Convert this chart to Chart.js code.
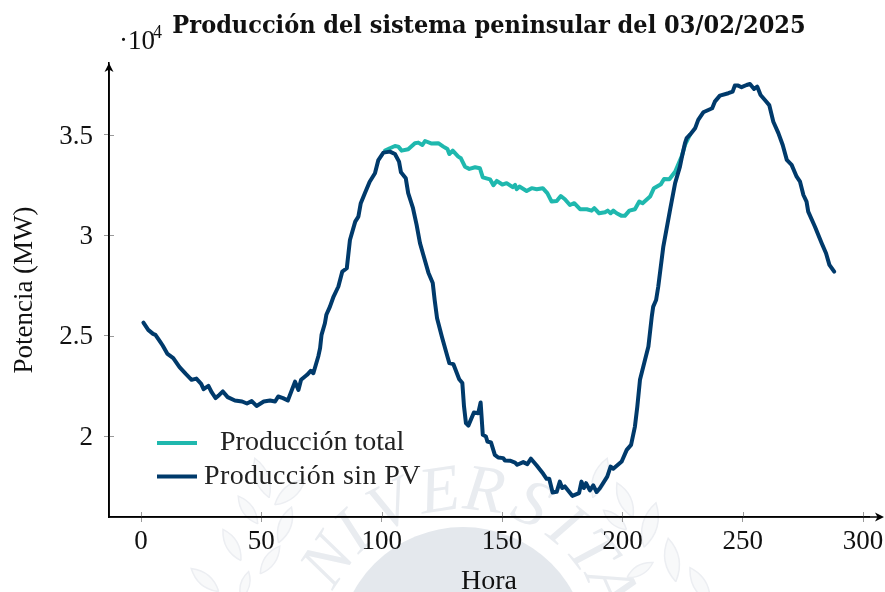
<!DOCTYPE html>
<html lang="es">
<head>
<meta charset="utf-8">
<title>Producción del sistema peninsular</title>
<script src="https://cdn.jsdelivr.net/npm/chart.js@4"></script>
<style>html,body{margin:0;padding:0;background:#fff}#w{position:relative;width:885px;height:592px}canvas{display:block}</style>
</head>
<body>
<div id="w"><canvas id="c" width="885" height="592"></canvas></div>
<script>
const chartTitle = "Producción del sistema peninsular del 03/02/2025";
const xLabel = "Hora";
const yLabel = "Potencia (MW)";
const xTickValues = [0, 50, 100, 150, 200, 250, 300];
const yTickValues = [20000, 25000, 30000, 35000];
const seriesTotalName = "Producción total";
const seriesNoPvName = "Producción sin PV";

const totalHours = [101.4,103.4,105.5,106.9,108.3,111,113.8,115.2,116.9,118,120.8,123.5,125.6,127.3,128.1,129.5,131.8,132.9,134.6,136.4,138.8,140.8,142,145,146.4,147.8,150.1,151.9,154.4,155.4,156.1,157.2,160.2,162.3,164.4,166.9,168.8,170.6,172.7,174.4,176.1,178.2,180,182.4,185.2,187.2,188.3,190.3,192.8,193.9,195.1,196.2,197.6,199.7,201,202.9,205.2,207,208.4,211.5,213.1,216,217.3,219.5,221.9,224.6,226,228];
const totalMW = [34220,34340,34450,34420,34220,34290,34590,34620,34500,34700,34570,34590,34420,34300,34050,34220,33920,33840,33420,33310,33390,33340,32890,32790,32500,32710,32530,32600,32400,32510,32300,32430,32210,32350,32300,32350,32100,31680,31710,31960,31800,31510,31600,31300,31300,31230,31350,31100,31150,31230,31100,31230,31100,30970,30970,31230,31300,31680,31600,31930,32350,32550,32810,32790,33170,33920,34500,35000];

const noPvHours = [1,3,5,6,8,9,11,13.4,16,18.7,21,23,25,26,28,29.4,31,32.5,34,36,39,42,44,46,48,51,53.6,55.7,57,59,61,64,65.4,66.5,69,70.5,71.6,73.7,74.4,75,76.4,77,78.5,80,82,83.6,85.5,86.8,89,90.3,91.3,93,95,97.2,98.6,100.7,103.4,105.5,107.2,108,110,111,113,114.5,115.9,117.3,119.4,121.2,122,123,125,127.3,128.1,129.8,132.2,133.5,134.2,135,136,138.3,140.1,141.1,142,143.3,143.9,145.4,147,148.4,150.5,151.2,153.3,155.4,156.3,158.8,160.5,162,164.4,167.1,168.5,169.6,171,172.7,174,175,176.1,179.2,182,183,184,184.9,186.5,187.9,189.3,190.7,193.7,195.1,196.2,199.7,201.8,203.6,205.2,206.2,207.3,209.4,210.8,212.2,212.8,214,214.9,217,219.8,221.9,223.9,224.6,226,226.7,228,230.2,231.5,233.6,236.4,237.3,238.4,240.5,244,245.8,246.7,248.1,249.5,251.6,253,254.7,256,257.4,259.2,261,262.7,264.8,266.6,268.3,270.3,272.4,273.8,275.2,276.5,277.2,280,282.8,284.6,286,288];
const noPvMW = [25650,25290,25090,25040,24690,24510,24090,23880,23430,23080,22800,22860,22600,22340,22500,22170,21890,22050,22220,21940,21770,21720,21620,21740,21500,21720,21770,21720,21970,21890,21770,22710,22300,22800,23050,23250,23130,23990,24380,25040,25620,26040,26450,26950,27450,28190,28360,29770,30680,30930,31600,32100,32670,33090,33750,34120,34170,34050,33670,33140,32840,32100,31350,30520,29610,29020,28140,27620,26780,25870,24950,23960,23630,23580,22830,22640,21470,20640,20520,21170,21140,21670,20060,19980,19730,19680,19060,18930,18900,18780,18770,18680,18570,18700,18600,18870,18530,18120,17870,17870,17190,17220,17730,17410,17490,17020,17160,17730,17410,17650,17290,17540,17210,17410,17980,18480,18370,18730,19310,19560,20470,21470,22800,23800,24460,25950,26450,26780,27450,29440,31270,32600,33420,33840,34590,34840,35000,35330,35750,36130,36280,36330,36660,36960,37080,37160,37460,37460,37380,37490,37540,37290,37410,36990,36740,36490,35660,35090,34500,33760,33510,32920,32670,32010,31680,31180,30430,29610,29110,28530,28190];

const tealColor = "#1fb8ae";
const navyColor = "#003a6b";
const serif = '"Liberation Serif", serif';

const toXY = (xs, ys) => xs.map((x, i) => ({ x, y: ys[i] }));

const watermark = {
  id: "watermark",
  beforeDraw(chart) {
    const ctx = chart.ctx;
    ctx.save();
    ctx.fillStyle = "#fff";
    ctx.fillRect(0, 0, chart.width, chart.height);
    const cx = 463, cy = 652;
    ctx.fillStyle = "#e4e8ed";
    ctx.beginPath(); ctx.arc(cx, cy, 125, 0, Math.PI * 2); ctx.fill();
    const letters = [["N",-56],["I",-42.7],["V",-26.7],["E",-8.4],["R",7.5],["S",25],["I",39],["T",52],["A",66]];
    ctx.fillStyle = "#e9ecf0";
    ctx.font = "italic 66px " + serif;
    ctx.textAlign = "center"; ctx.textBaseline = "middle";
    letters.forEach(([t, a]) => {
      const r = a * Math.PI / 180;
      ctx.save();
      ctx.translate(cx + 160 * Math.sin(r), cy - 160 * Math.cos(r));
      ctx.rotate(r);
      ctx.fillText(t, 0, 0);
      ctx.restore();
    });
    const leaves = [[262,478,-20,42],[290,492,50,40],[248,510,-35,34],[285,525,20,38],[232,545,-30,36],[270,560,35,34],[205,580,-50,36],[245,585,15,28],
                    [600,478,20,42],[625,500,-25,38],[650,525,15,46],[615,520,-50,30],[672,560,-10,44],[700,585,-30,40],[640,570,60,30]];
    ctx.strokeStyle = "#eceef2"; ctx.fillStyle = "#f8f9fa"; ctx.lineWidth = 1.5;
    leaves.forEach(([x, y, a, l]) => {
      ctx.save();
      ctx.translate(x, y); ctx.rotate(a * Math.PI / 180);
      ctx.beginPath(); ctx.moveTo(0, l / 2);
      ctx.quadraticCurveTo(l * 0.32, 0, 0, -l / 2);
      ctx.quadraticCurveTo(-l * 0.32, 0, 0, l / 2);
      ctx.fill(); ctx.stroke();
      ctx.restore();
    });
    ctx.restore();
  }
};

const decorations = {
  id: "decorations",
  afterDraw(chart) {
    const ctx = chart.ctx, xs = chart.scales.x, ys = chart.scales.y;
    const ox = xs.left, oy = ys.bottom, tipY = 63, tipX = 884;
    ctx.save();
    ctx.strokeStyle = "#9a9a9a"; ctx.lineWidth = 1;
    xTickValues.forEach(v => { const p = Math.round(xs.getPixelForValue(v)) + .5; ctx.beginPath(); ctx.moveTo(p, oy); ctx.lineTo(p, oy - 5); ctx.stroke(); });
    yTickValues.forEach(v => { const p = Math.round(ys.getPixelForValue(v)) + .5; ctx.beginPath(); ctx.moveTo(ox, p); ctx.lineTo(ox + 5, p); ctx.stroke(); });
    ctx.strokeStyle = "#000"; ctx.fillStyle = "#000"; ctx.lineWidth = 1.6;
    ctx.beginPath(); ctx.moveTo(ox, oy); ctx.lineTo(ox, tipY + 4); ctx.moveTo(ox, oy); ctx.lineTo(tipX - 4, oy); ctx.stroke();
    ctx.beginPath(); ctx.moveTo(ox, tipY); ctx.lineTo(ox + 4.5, tipY + 9); ctx.lineTo(ox, tipY + 6.5); ctx.lineTo(ox - 4.5, tipY + 9); ctx.closePath(); ctx.fill();
    ctx.beginPath(); ctx.moveTo(tipX, oy); ctx.lineTo(tipX - 9, oy - 4.5); ctx.lineTo(tipX - 6.5, oy); ctx.lineTo(tipX - 9, oy + 4.5); ctx.closePath(); ctx.fill();
    ctx.fillStyle = "#111"; ctx.textAlign = "left"; ctx.textBaseline = "alphabetic";
    ctx.font = "27px " + serif; ctx.fillText("·10", 119, 49);
    ctx.font = "18px " + serif; ctx.fillText("4", 153, 38);
    const rows = [[chart.data.datasets[0], 443, 220, "0px"], [chart.data.datasets[1], 476.5, 204, "0.4px"]];
    rows.forEach(([d, y, tx, sp]) => {
      ctx.strokeStyle = d.borderColor; ctx.lineWidth = 4; ctx.lineCap = "butt";
      ctx.beginPath(); ctx.moveTo(157, y); ctx.lineTo(197, y); ctx.stroke();
      ctx.fillStyle = "#222"; ctx.font = "28px " + serif; ctx.textBaseline = "middle";
      ctx.letterSpacing = sp;
      ctx.fillText(d.label, tx, y);
      ctx.letterSpacing = "0px";
    });
    ctx.restore();
  }
};

const noPad = s => { s.paddingLeft = 0; s.paddingRight = 0; s.paddingTop = 0; s.paddingBottom = 0; };

new Chart(document.getElementById("c"), {
  type: "line",
  data: {
    datasets: [
      { label: seriesTotalName, data: toXY(totalHours, totalMW), borderColor: tealColor, backgroundColor: tealColor, borderWidth: 4, pointRadius: 0, tension: 0, order: 2, borderJoinStyle: "round", borderCapStyle: "round" },
      { label: seriesNoPvName, data: toXY(noPvHours, noPvMW), borderColor: navyColor, backgroundColor: navyColor, borderWidth: 4, pointRadius: 0, tension: 0, order: 1, borderJoinStyle: "round", borderCapStyle: "round" }
    ]
  },
  options: {
    responsive: false,
    animation: false,
    layout: { padding: { left: 0, right: 16, top: 0, bottom: 0 } },
    plugins: {
      legend: { display: false },
      tooltip: { enabled: false },
      title: {
        display: true, text: chartTitle, fullSize: false, color: "#111",
        font: { family: '"DejaVu Serif Condensed", "DejaVu Serif", serif', size: 25, weight: "bold", lineHeight: 1.2 },
        padding: { top: 11, bottom: 22 }
      }
    },
    scales: {
      x: {
        type: "linear", min: -13.3, max: 302.45,
        afterBuildTicks: s => { s.ticks = xTickValues.map(value => ({ value })); },
        afterFit: s => { s.height = 75; noPad(s); },
        border: { display: true, color: "#000", width: 1.6 },
        grid: { drawOnChartArea: false, drawTicks: true, tickLength: 5, tickColor: "#9a9a9a", tickWidth: 1 },
        ticks: { color: "#111", maxRotation: 0, autoSkip: false, padding: 4, font: { family: serif, size: 27 } },
        title: { display: true, text: xLabel, color: "#111", font: { family: serif, size: 28, lineHeight: 1 }, padding: { top: 0, bottom: -4 } }
      },
      y: {
        type: "linear", min: 15966, max: 38586,
        afterBuildTicks: s => { s.ticks = yTickValues.map(value => ({ value })); },
        afterFit: s => { s.width = 109; noPad(s); },
        border: { display: true, color: "#000", width: 1.6 },
        grid: { drawOnChartArea: false, drawTicks: true, tickLength: 5, tickColor: "#9a9a9a", tickWidth: 1 },
        ticks: { color: "#111", padding: 11, labelOffset: 1.5, callback: v => String(v / 10000), font: { family: serif, size: 27 } },
        title: { display: true, text: yLabel, color: "#111", font: { family: serif, size: 27, lineHeight: 1 }, padding: { top: 11, bottom: 0 } }
      }
    }
  },
  plugins: [watermark, decorations]
});
</script>
</body>
</html>
